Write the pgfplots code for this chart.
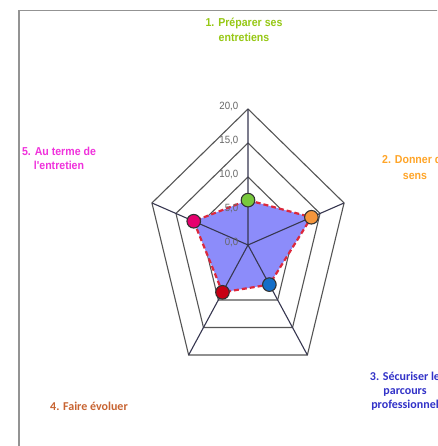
\documentclass[border=0pt]{standalone}
\usepackage{fontspec}
\setmainfont{Liberation Sans}
\newfontfamily\narrowfont[FakeStretch=0.92]{Liberation Sans}
\newfontfamily\calfont{Carlito}
\usepackage{pgfplots}
\usepackage{pgfplotstable}
\pgfplotsset{compat=1.18}
\usepgfplotslibrary{polar}

\definecolor{lab1}{RGB}{150,200,20}
\definecolor{lab2}{RGB}{255,165,40}
\definecolor{lab3}{RGB}{50,50,200}
\definecolor{lab4}{RGB}{200,100,50}
\definecolor{lab5}{RGB}{240,50,220}
\definecolor{mk1}{RGB}{120,200,60}
\definecolor{mk2}{RGB}{245,150,60}
\definecolor{mk3}{RGB}{20,110,200}
\definecolor{mk4}{RGB}{200,0,20}
\definecolor{mk5}{RGB}{230,0,110}
\definecolor{areafill}{RGB}{140,140,250}
\definecolor{areaedge}{RGB}{220,40,60}
\definecolor{gridgray}{RGB}{85,85,85}
\definecolor{spoke}{RGB}{55,55,80}

% angle (deg) of each branch, score
\pgfplotstableread{
angle value cls
90    6.6   a
18    13.2  b
-54   7.2   c
-126  8.6   d
162   11.3  e
}\scores

\tikzset{rlab/.style={anchor=east, inner sep=0, yshift=2pt, text=gray!80!black,
    font=\narrowfont\fontsize{10.5}{12}\selectfont}}

\begin{document}
\begin{tikzpicture}
\useasboundingbox (0,0) rectangle (437pt,446pt);
\clip (0,0) rectangle (437pt,446pt);
\fill[white] (0,0) rectangle (437pt,446pt);
\draw[gray!85, line width=1.6pt] (19pt,-20pt) rectangle (470pt,435.5pt);

\begin{axis}[
  at={(248pt,201pt)}, anchor=origin,
  x=5.05pt, y=6.8pt,
  xmin=-20, xmax=20, ymin=-20, ymax=20,
  hide axis, clip=false,
]
% rings
\addplot[gridgray, line width=1.1pt, data cs=polar] coordinates {(90,20) (18,20) (-54,20) (-126,20) (162,20) (90,20)};
\addplot[gridgray, line width=1.1pt, data cs=polar] coordinates {(90,15) (18,15) (-54,15) (-126,15) (162,15) (90,15)};
\addplot[gridgray, line width=1.1pt, data cs=polar] coordinates {(90,10) (18,10) (-54,10) (-126,10) (162,10) (90,10)};
% filled area
\addplot[fill=areafill, draw=areaedge, line width=2.2pt, dash pattern=on 5pt off 3pt, data cs=polar]
  table[x=angle, y=value] {\scores} -- cycle;
% spokes
\addplot[spoke, line width=1.1pt, data cs=polar] coordinates {(90,20) (0,0) (18,20) (0,0) (-54,20) (0,0) (-126,20) (0,0) (162,20)};
% markers
\addplot[scatter, only marks, data cs=polar, mark size=6.8pt,
  point meta=explicit symbolic,
  scatter/classes={
    a={mark=*, fill=mk1, draw=black!80, line width=1.1pt},
    b={mark=*, fill=mk2, draw=black!80, line width=1.1pt},
    c={mark=*, fill=mk3, draw=black!80, line width=1.1pt},
    d={mark=*, fill=mk4, draw=black!80, line width=1.1pt},
    e={mark=*, fill=mk5, draw=black!80, line width=1.1pt}}]
  table[x=angle, y=value, meta=cls] {\scores};
% radial labels
\node[rlab] at (axis cs:-1.9,0) {0,0};
\node[rlab] at (axis cs:-1.9,5) {5,0};
\node[rlab] at (axis cs:-1.9,10) {10,0};
\node[rlab] at (axis cs:-1.9,15) {15,0};
\node[rlab] at (axis cs:-1.9,20) {20,0};
\end{axis}

\node[font=\narrowfont\bfseries\fontsize{11.5}{15}\selectfont, text=lab1, align=center, inner sep=0]
  at (244pt,416.5pt) {1. Préparer ses\\entretiens};
\node[font=\narrowfont\bfseries\fontsize{11.5}{16}\selectfont, text=lab2, align=center, inner sep=0]
  at (415pt,279pt) {2. Donner du\\sens};
\node[font=\calfont\bfseries\fontsize{12}{14}\selectfont, text=lab3, align=center, inner sep=0]
  at (405pt,55pt) {3. Sécuriser le\\parcours\\professionnel};
\node[font=\calfont\bfseries\fontsize{12}{14}\selectfont, text=lab4, inner sep=0]
  at (89pt,40pt) {4. Faire évoluer};
\node[font=\narrowfont\bfseries\fontsize{11.5}{14}\selectfont, text=lab5, align=center, inner sep=0]
  at (59pt,288pt) {5. Au terme de\\l'entretien};
\end{tikzpicture}
\end{document}
